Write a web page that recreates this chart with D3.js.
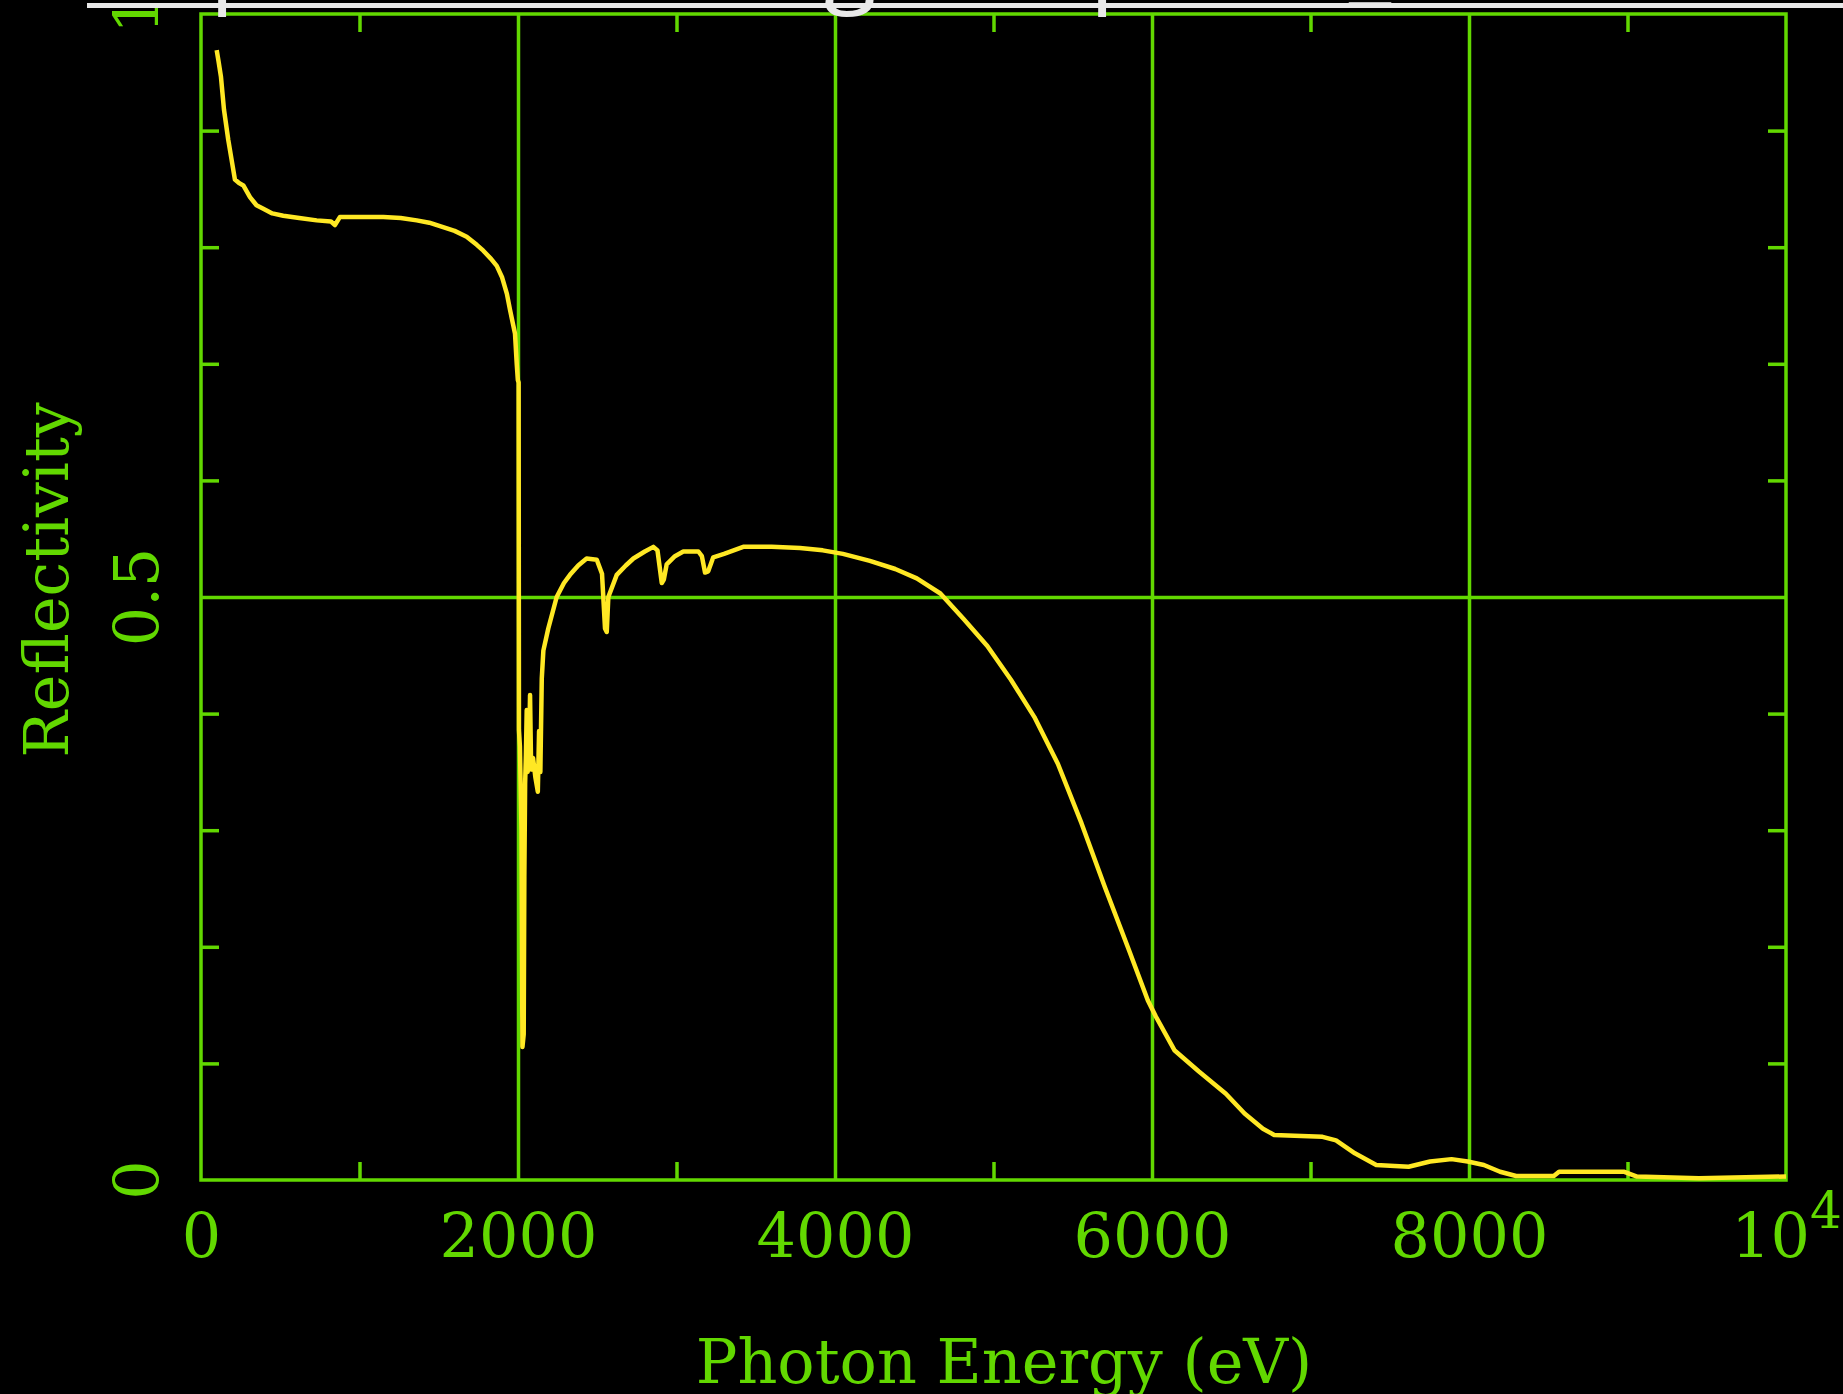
<!DOCTYPE html>
<html>
<head>
<meta charset="utf-8">
<script src="https://cdn.jsdelivr.net/npm/d3@7"></script>
<style>
  html, body { margin: 0; padding: 0; background: #000; overflow: hidden; }
  svg { display: block; }
</style>
</head>
<body>
<div id="chart"></div>
<script>
// Photon energy (eV) and reflectivity
const energy = [
    99, 110, 126, 145, 172, 193, 214, 240, 267, 309, 350, 393, 450, 519, 620, 730, 820, 845, 877,
    1000, 1150, 1260, 1361, 1440, 1508, 1600, 1676, 1740, 1781, 1830, 1866, 1900, 1930, 1950, 1970,
    1981, 1992, 1999, 2004, 2006, 2012, 2022, 2028, 2036, 2040, 2045, 2050, 2055, 2061, 2070, 2076,
    2083, 2095, 2110, 2125, 2133, 2141, 2150, 2160, 2191, 2244, 2290, 2328, 2380, 2433, 2497, 2530,
    2549, 2560, 2570, 2623, 2680, 2728, 2800, 2854, 2880, 2907, 2920, 2938, 2990, 3043, 3138, 3160,
    3180, 3200, 3232, 3300, 3421, 3600, 3779, 3923, 4050, 4220, 4380, 4516, 4665, 4813, 4961, 5110,
    5258, 5406, 5555, 5703, 5855, 5974, 6025, 6143, 6296, 6466, 6584, 6700, 6771, 6900, 7076, 7161,
    7280, 7415, 7619, 7754, 7890, 7992, 8094, 8196, 8297, 8535, 8568, 8976, 9060, 9451, 10000
];
const reflectivity = [
    0.969, 0.96, 0.946, 0.918, 0.892, 0.875, 0.858, 0.855, 0.853, 0.843, 0.836, 0.833, 0.829, 0.827, 0.825, 0.823, 0.822, 0.819, 0.826,
    0.826, 0.826, 0.825, 0.823, 0.821, 0.818, 0.814, 0.809, 0.802, 0.797, 0.79, 0.784, 0.774, 0.76, 0.746, 0.733,
    0.726, 0.70, 0.686, 0.684, 0.386, 0.372, 0.30, 0.114, 0.125, 0.26, 0.34, 0.365, 0.403, 0.35, 0.372, 0.416,
    0.352, 0.362, 0.345, 0.333, 0.385, 0.35, 0.43, 0.454, 0.473, 0.50, 0.512, 0.519, 0.527, 0.533, 0.532, 0.52,
    0.473, 0.47, 0.50, 0.519, 0.527, 0.533, 0.539, 0.543, 0.54, 0.512, 0.515, 0.528, 0.535, 0.539, 0.539, 0.535,
    0.521, 0.522, 0.534, 0.537, 0.543, 0.543, 0.542, 0.540, 0.537, 0.531, 0.524, 0.516, 0.503, 0.481, 0.458, 0.429,
    0.397, 0.357, 0.306, 0.251, 0.197, 0.154, 0.140, 0.111, 0.093, 0.074, 0.057, 0.044, 0.0386, 0.038, 0.037, 0.034,
    0.0229, 0.0129, 0.0114, 0.0159, 0.0179, 0.0159, 0.0129, 0.0071, 0.0034, 0.0034, 0.0071, 0.0071, 0.0029, 0.0015, 0.003
];

// Ticks and labels
const majorX = [0, 2000, 4000, 6000, 8000, 10000];
const majorXLabels = ["0", "2000", "4000", "6000", "8000", "10"];
const minorX = [1000, 3000, 5000, 7000, 9000];
const gridX = [2000, 4000, 6000, 8000];
const majorY = [0, 0.5, 1];
const majorYLabels = ["0", "0.5", "1"];
const minorY = [0.1, 0.2, 0.3, 0.4, 0.6, 0.7, 0.8, 0.9];
const gridY = [0.5];

const width = 1843;
const height = 1394;
const margin = { top: 14, right: 57, bottom: 214, left: 201 };
const innerWidth = width - margin.left - margin.right;
const innerHeight = height - margin.top - margin.bottom;

const green = "#62d800";
const yellow = "#ffe824";
const font = "'DejaVu Serif', serif";

const xScale = d3.scaleLinear().domain([0, 10000]).range([margin.left, margin.left + innerWidth]);
const yScale = d3.scaleLinear().domain([0, 1]).range([margin.top + innerHeight, margin.top]);

const svg = d3.select("#chart")
    .append("svg")
    .attr("width", width)
    .attr("height", height)
    .style("background", "#000");

// helper to style axis groups: no domain, green lines
const styleAxis = g => {
    g.select(".domain").remove();
    g.selectAll("line").attr("stroke", green).attr("stroke-width", 3.5);
};

// grid lines at major ticks
svg.append("g")
    .attr("transform", `translate(0,${yScale(0)})`)
    .call(d3.axisBottom(xScale).tickValues(gridX).tickSize(-innerHeight).tickFormat(""))
    .call(styleAxis);

svg.append("g")
    .attr("transform", `translate(${xScale(0)},0)`)
    .call(d3.axisLeft(yScale).tickValues(gridY).tickSize(-innerWidth).tickFormat(""))
    .call(styleAxis);

// minor ticks, inward on all four sides
const tickLen = 18;
svg.append("g")
    .attr("transform", `translate(0,${yScale(0)})`)
    .call(d3.axisBottom(xScale).tickValues(minorX).tickSize(-tickLen).tickFormat(""))
    .call(styleAxis);
svg.append("g")
    .attr("transform", `translate(0,${yScale(1)})`)
    .call(d3.axisTop(xScale).tickValues(minorX).tickSize(-tickLen).tickFormat(""))
    .call(styleAxis);
svg.append("g")
    .attr("transform", `translate(${xScale(0)},0)`)
    .call(d3.axisLeft(yScale).tickValues(minorY).tickSize(-tickLen).tickFormat(""))
    .call(styleAxis);
svg.append("g")
    .attr("transform", `translate(${xScale(10000)},0)`)
    .call(d3.axisRight(yScale).tickValues(minorY).tickSize(-tickLen).tickFormat(""))
    .call(styleAxis);

// frame
svg.append("rect")
    .attr("x", xScale(0))
    .attr("y", yScale(1))
    .attr("width", xScale(10000) - xScale(0))
    .attr("height", yScale(0) - yScale(1))
    .attr("fill", "none")
    .attr("stroke", green)
    .attr("stroke-width", 3.5);

// x tick labels
const xLabels = svg.append("g")
    .attr("transform", `translate(0,${yScale(0)})`)
    .call(d3.axisBottom(xScale).tickValues(majorX).tickSize(0).tickFormat((d, i) => majorXLabels[i]));
xLabels.select(".domain").remove();
xLabels.selectAll("text")
    .attr("y", 77)
    .attr("dy", 0)
    .attr("fill", green)
    .style("font-family", font)
    .style("font-size", "62px");
// 10^4 gets its exponent
xLabels.selectAll("text")
    .filter(d => d === 10000)
    .append("tspan")
    .attr("dy", -29)
    .style("font-size", "50px")
    .text("4");

// y tick labels, rotated
svg.append("g")
    .selectAll("text")
    .data(majorY)
    .join("text")
    .attr("transform", d => `translate(158,${yScale(d)}) rotate(-90)`)
    .attr("text-anchor", "middle")
    .attr("fill", green)
    .style("font-family", font)
    .style("font-size", "62px")
    .text((d, i) => majorYLabels[i]);

// axis titles
svg.append("text")
    .attr("x", 1004)
    .attr("y", 1383)
    .attr("text-anchor", "middle")
    .attr("fill", green)
    .style("font-family", font)
    .style("font-size", "62px")
    .text("Photon Energy (eV)");

svg.append("text")
    .attr("transform", "translate(68,580) rotate(-90)")
    .attr("text-anchor", "middle")
    .attr("fill", green)
    .style("font-family", font)
    .style("font-size", "62px")
    .text("Reflectivity");

// reflectivity curve
const lineGenerator = d3.line()
    .x(d => xScale(d[0]))
    .y(d => yScale(d[1]));

svg.append("path")
    .datum(d3.zip(energy, reflectivity))
    .attr("d", lineGenerator)
    .attr("fill", "none")
    .attr("stroke", yellow)
    .attr("stroke-width", 4.5)
    .attr("stroke-linejoin", "round");

// slide title above, cut off by the page edge: only its underline and descenders show
svg.append("rect")
    .attr("x", 87)
    .attr("y", 3)
    .attr("width", width - 87)
    .attr("height", 5)
    .attr("fill", "#e8e8e8");

const titleBits = svg.append("g")
    .attr("fill", "#e8e8e8")
    .style("font-family", "'Open Sans', sans-serif")
    .style("font-size", "96px");
titleBits.append("text").attr("x", 210).attr("y", -6).text("p");
titleBits.append("text").attr("x", 824).attr("y", -6).text("g");
titleBits.append("text").attr("x", 1090).attr("y", -6).text("p");
titleBits.append("text").attr("x", 1349).attr("y", -6).text("_");
</script>
</body>
</html>
